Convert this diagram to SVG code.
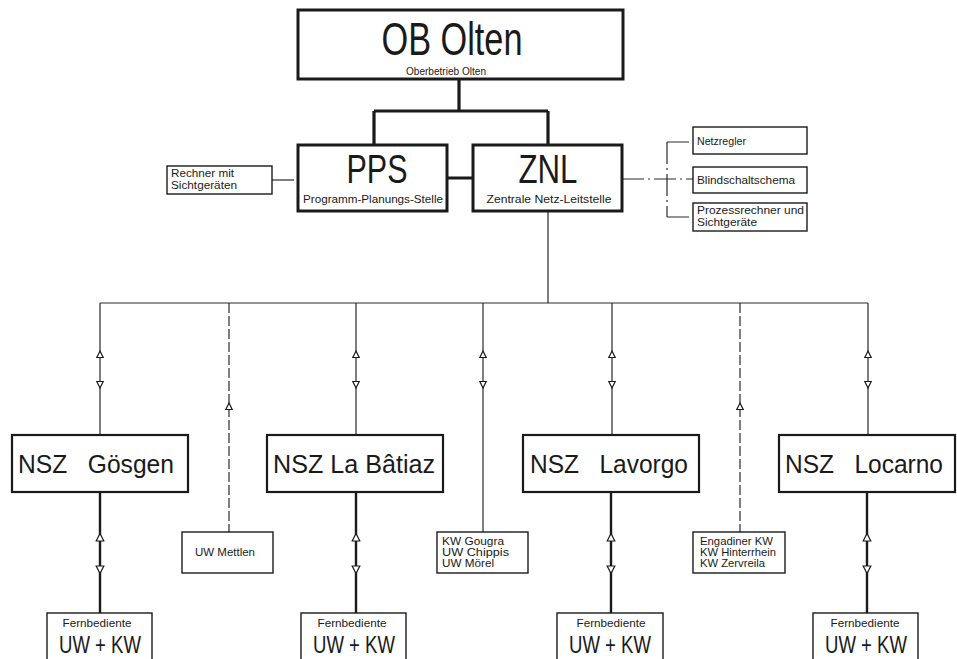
<svg xmlns="http://www.w3.org/2000/svg" width="957" height="659" viewBox="0 0 957 659">
<defs>
<style>
text{font-family:"Liberation Sans","DejaVu Sans",Arial,sans-serif;fill:#1a1a1a}
.big{fill:#fff;stroke:#1a1a1a;stroke-width:3}
.mid{fill:#fff;stroke:#1a1a1a;stroke-width:2.2}
.sm{fill:#fff;stroke:#1a1a1a;stroke-width:1.4}
.thick{stroke:#1a1a1a;stroke-width:3.2;fill:none}
.thin{stroke:#2a2a2a;stroke-width:1.2;fill:none}
.sub{stroke:#1a1a1a;stroke-width:2.4;fill:none}
.dash{stroke:#2a2a2a;stroke-width:1.2;fill:none;stroke-dasharray:10 3}
.dd{stroke:#2a2a2a;stroke-width:1.2;fill:none;stroke-dasharray:22 4 2 4}
.arr{fill:#fff;stroke:#1a1a1a;stroke-width:1.2}
.s10{font-size:10.5px}
.s11{font-size:11px}
.s12{font-size:11.5px}
</style>
<path id="up" d="M0,-4 L3.2,2.5 L-3.2,2.5 Z"/>
<path id="dn" d="M0,4 L3.2,-2.5 L-3.2,-2.5 Z"/>
<path id="up2" d="M0,-4.5 L3.8,3 L-3.8,3 Z"/>
<path id="dn2" d="M0,4.5 L3.8,-3 L-3.8,-3 Z"/>
</defs>
<rect width="957" height="659" fill="#fff"/>

<g id="connectors">
  <path class="thick" d="M459,79 V111 M374,111 H548 M374,111 V145 M548,111 V145 M447,178 H473"/>
  <path class="dd" d="M272,180 H298"/>
  <path class="dd" d="M622,179 H693 M667,142 V217 M667,142 H693 M667,217 H693"/>
  <path class="thin" d="M548,211 V303 M100,303 H868 M100,303 V435 M356,303 V435 M483,303 V532 M612,303 V435 M868,303 V435"/>
  <path class="dash" d="M229,303 V532 M740,303 V532"/>
  <path class="sub" d="M100,492 V613 M356,492 V613 M611,492 V613 M867,492 V613"/>
  <g class="arr">
    <use href="#up" x="100" y="355"/><use href="#dn" x="100" y="384"/>
    <use href="#up" x="356" y="355"/><use href="#dn" x="356" y="384"/>
    <use href="#up" x="483" y="355"/><use href="#dn" x="483" y="384"/>
    <use href="#up" x="612" y="355"/><use href="#dn" x="612" y="384"/>
    <use href="#up" x="868" y="355"/><use href="#dn" x="868" y="384"/>
    <use href="#up" x="229" y="407"/>
    <use href="#up" x="740" y="407"/>
    <use href="#up2" x="100" y="538"/><use href="#dn2" x="100" y="569"/>
    <use href="#up2" x="356" y="538"/><use href="#dn2" x="356" y="569"/>
    <use href="#up2" x="611" y="538"/><use href="#dn2" x="611" y="569"/>
    <use href="#up2" x="867" y="538"/><use href="#dn2" x="867" y="569"/>
  </g>
</g>

<g id="ob-olten">
  <rect class="big" x="298" y="10" width="325" height="69"/>
  <text x="452" y="55" font-size="47" text-anchor="middle" textLength="141" lengthAdjust="spacingAndGlyphs">OB Olten</text>
  <text x="446" y="75" class="s10" text-anchor="middle" textLength="80" lengthAdjust="spacingAndGlyphs">Oberbetrieb Olten</text>
</g>

<g id="pps">
  <rect class="big" x="298" y="145" width="149" height="66"/>
  <text x="377" y="183" font-size="41" text-anchor="middle" textLength="61" lengthAdjust="spacingAndGlyphs">PPS</text>
  <text x="373" y="203" class="s11" text-anchor="middle" textLength="140" lengthAdjust="spacingAndGlyphs">Programm-Planungs-Stelle</text>
</g>

<g id="znl">
  <rect class="big" x="473" y="145" width="149" height="66"/>
  <text x="548" y="183" font-size="41" text-anchor="middle" textLength="59" lengthAdjust="spacingAndGlyphs">ZNL</text>
  <text x="549" y="203" class="s11" text-anchor="middle" textLength="125" lengthAdjust="spacingAndGlyphs">Zentrale Netz-Leitstelle</text>
</g>

<g id="rechner">
  <rect class="sm" x="167" y="166" width="105" height="28"/>
  <text x="171" y="177" class="s10" textLength="63" lengthAdjust="spacingAndGlyphs">Rechner mit</text>
  <text x="171" y="189" class="s10" textLength="66" lengthAdjust="spacingAndGlyphs">Sichtgeräten</text>
</g>

<g id="netzregler">
  <rect class="sm" x="693" y="127" width="114" height="27"/>
  <text x="697" y="145" class="s12" textLength="49" lengthAdjust="spacingAndGlyphs">Netzregler</text>
</g>
<g id="blindschaltschema">
  <rect class="sm" x="693" y="167" width="114" height="26"/>
  <text x="697" y="184" class="s12" textLength="98" lengthAdjust="spacingAndGlyphs">Blindschaltschema</text>
</g>
<g id="prozessrechner">
  <rect class="sm" x="693" y="203" width="114" height="28"/>
  <text x="697" y="214" class="s12" textLength="107" lengthAdjust="spacingAndGlyphs">Prozessrechner und</text>
  <text x="697" y="226" class="s12" textLength="60" lengthAdjust="spacingAndGlyphs">Sichtgeräte</text>
</g>

<g id="nsz-goesgen">
  <rect class="mid" x="12" y="435" width="176" height="57"/>
  <text x="18" y="473" font-size="25" textLength="156" lengthAdjust="spacingAndGlyphs" xml:space="preserve">NSZ   Gösgen</text>
</g>
<g id="nsz-labatiaz">
  <rect class="mid" x="267" y="435" width="176" height="57"/>
  <text x="273" y="473" font-size="25" textLength="162" lengthAdjust="spacingAndGlyphs">NSZ La Bâtiaz</text>
</g>
<g id="nsz-lavorgo">
  <rect class="mid" x="523" y="435" width="176" height="57"/>
  <text x="530" y="473" font-size="25" textLength="158" lengthAdjust="spacingAndGlyphs" xml:space="preserve">NSZ   Lavorgo</text>
</g>
<g id="nsz-locarno">
  <rect class="mid" x="779" y="435" width="176" height="57"/>
  <text x="785" y="473" font-size="25" textLength="158" lengthAdjust="spacingAndGlyphs" xml:space="preserve">NSZ   Locarno</text>
</g>

<g id="uw-mettlen">
  <rect class="sm" x="182" y="532" width="91" height="41"/>
  <text x="195" y="556" class="s10" textLength="60" lengthAdjust="spacingAndGlyphs">UW Mettlen</text>
</g>
<g id="kw-gougra">
  <rect class="sm" x="437" y="532" width="91" height="41"/>
  <text x="442" y="545" class="s10" textLength="62" lengthAdjust="spacingAndGlyphs">KW Gougra</text>
  <text x="442" y="556" class="s10" textLength="67" lengthAdjust="spacingAndGlyphs">UW Chippis</text>
  <text x="442" y="567" class="s10" textLength="52" lengthAdjust="spacingAndGlyphs">UW Mörel</text>
</g>
<g id="engadiner">
  <rect class="sm" x="693" y="532" width="92" height="41"/>
  <text x="700" y="545" class="s10" textLength="73" lengthAdjust="spacingAndGlyphs">Engadiner KW</text>
  <text x="700" y="556" class="s10" textLength="76" lengthAdjust="spacingAndGlyphs">KW Hinterrhein</text>
  <text x="700" y="567" class="s10" textLength="65" lengthAdjust="spacingAndGlyphs">KW Zervreila</text>
</g>

<g id="fern-goesgen">
  <rect class="sm" x="47" y="613" width="105" height="50"/>
  <text x="97" y="627" class="s10" text-anchor="middle" textLength="69" lengthAdjust="spacingAndGlyphs">Fernbediente</text>
  <text x="100" y="653" font-size="23" text-anchor="middle" textLength="82" lengthAdjust="spacingAndGlyphs">UW + KW</text>
</g>
<g id="fern-labatiaz">
  <rect class="sm" x="301" y="613" width="105" height="50"/>
  <text x="352" y="627" class="s10" text-anchor="middle" textLength="69" lengthAdjust="spacingAndGlyphs">Fernbediente</text>
  <text x="354" y="653" font-size="23" text-anchor="middle" textLength="82" lengthAdjust="spacingAndGlyphs">UW + KW</text>
</g>
<g id="fern-lavorgo">
  <rect class="sm" x="557" y="613" width="106" height="50"/>
  <text x="611" y="627" class="s10" text-anchor="middle" textLength="69" lengthAdjust="spacingAndGlyphs">Fernbediente</text>
  <text x="610" y="653" font-size="23" text-anchor="middle" textLength="82" lengthAdjust="spacingAndGlyphs">UW + KW</text>
</g>
<g id="fern-locarno">
  <rect class="sm" x="813" y="613" width="105" height="50"/>
  <text x="865" y="627" class="s10" text-anchor="middle" textLength="69" lengthAdjust="spacingAndGlyphs">Fernbediente</text>
  <text x="866" y="653" font-size="23" text-anchor="middle" textLength="82" lengthAdjust="spacingAndGlyphs">UW + KW</text>
</g>
</svg>
